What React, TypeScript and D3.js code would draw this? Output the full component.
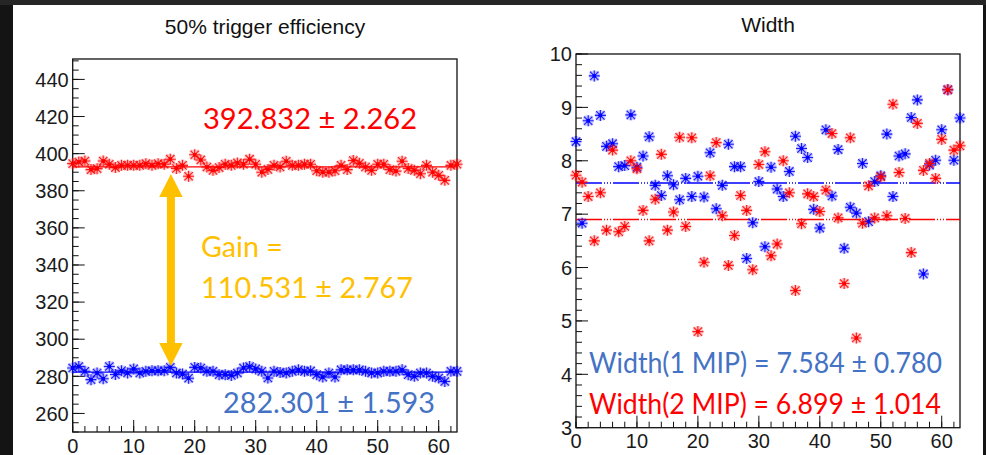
import React from 'react';
import * as d3 from 'd3';

// channel index 0..63
const channels = d3.range(64);

// 50% trigger efficiency, 2 MIP (red) and 1 MIP (blue)
const effRed = [
  394.6, 395.5, 396.0, 391.4, 391.9, 396.0, 394.3, 392.5, 393.7, 393.7,
  393.7, 393.7, 394.6, 393.7, 394.6, 394.3, 397.0, 392.0, 393.7, 387.8,
  399.4, 396.6, 392.8, 391.0, 392.5, 394.3, 393.7, 395.0, 394.3, 397.0,
  394.3, 390.0, 391.5, 393.7, 392.8, 395.9, 393.7, 393.7, 394.3, 394.3,
  390.8, 390.0, 390.0, 390.8, 393.7, 391.4, 396.3, 394.8, 392.8, 391.0,
  394.3, 394.3, 391.4, 390.6, 395.9, 392.0, 391.0, 389.2, 393.7, 390.0,
  388.3, 385.6, 393.7, 394.3
];
const effBlue = [
  284.5, 285.3, 282.7, 278.2, 281.8, 278.7, 285.3, 281.0, 283.0, 281.8,
  284.0, 281.8, 282.7, 283.0, 283.0, 283.0, 284.8, 281.8, 281.2, 279.0,
  284.8, 284.5, 282.7, 282.7, 280.9, 280.9, 280.5, 281.8, 284.5, 285.3,
  284.0, 282.7, 279.1, 282.7, 282.1, 281.8, 282.7, 283.5, 282.7, 282.9,
  280.9, 279.6, 281.8, 279.6, 283.5, 283.5, 283.5, 283.5, 282.7, 281.8,
  281.8, 282.7, 282.7, 282.7, 283.5, 280.9, 280.0, 281.8, 281.8, 280.0,
  279.1, 277.2, 282.7, 282.7
];
const effRedFit = 392.832;
const effBlueFit = 282.301;

// width, 2 MIP (red) and 1 MIP (blue)
const widthRed = [
  7.73, 7.60, 7.33, 6.50, 7.40, 6.70, 8.20, 6.67, 6.77, 8.00,
  7.85, 7.07, 6.50, 7.28, 8.12, 6.70, 7.04, 8.44, 6.77, 8.43,
  4.80, 6.10, 7.72, 8.34, 6.97, 6.04, 6.60, 7.35, 7.07, 5.96,
  7.93, 8.17, 6.22, 6.44, 8.00, 7.40, 5.57, 6.82, 7.38, 7.33,
  7.05, 7.45, 8.51, 6.93, 5.70, 8.43, 4.68, 6.83, 7.53, 6.93,
  7.70, 6.97, 9.06, 7.78, 6.92, 6.28, 8.70, 7.82, 7.95, 7.67,
  8.40, 9.33, 8.20, 8.28
];
const widthBlue = [
  8.36, 6.83, 8.75, 9.59, 8.85, 8.27, 8.32, 7.89, 7.91, 8.86,
  7.88, 8.09, 8.45, 7.54, 7.35, 7.72, 7.55, 7.27, 7.67, 7.33,
  7.71, 7.32, 8.15, 7.10, 7.54, 8.31, 7.89, 7.89, 6.17, 6.84,
  7.61, 6.39, 7.88, 7.47, 7.33, 7.80, 8.46, 8.23, 8.06, 7.09,
  6.74, 8.58, 7.34, 8.21, 6.36, 7.13, 7.02, 7.95, 6.86, 7.61,
  7.72, 8.50, 7.33, 8.09, 8.13, 8.81, 9.14, 5.88, 7.92, 8.01,
  8.58, 9.33, 8.01, 8.80
];
const widthBlueFit = 7.584;
const widthRedFit = 6.899;

const leftXTicks = d3.range(0, 61, 10);
const leftYTicks = d3.range(260, 441, 20);
const rightYTicks = d3.range(3, 11, 1);

const RED = '#ff0000';
const BLUE = '#0000ff';
const OFFICE_BLUE = '#4472c4';
const ORANGE = '#ffc000';
const tickFont = '"Liberation Sans", Arial, sans-serif';
const noteFont = 'Lato, "Open Sans", sans-serif';

function Star({ x, y, color }: { x: number; y: number; color: string }) {
  const d = 'M-5.5,0H5.5M0,-5.5V5.5M-4.2,-4.2L4.2,4.2M-4.2,4.2L4.2,-4.2';
  return (
    <g transform={`translate(${x},${y})`}>
      <path d={d} stroke={color} strokeWidth={3.4} strokeOpacity={0.25} />
      <path d={d} stroke={color} strokeWidth={1.1} strokeOpacity={0.85} />
      <rect x={-1.8} y={-1.8} width={3.6} height={3.6} fill={color} />
    </g>
  );
}

function Frame({ x, y, xTicks, xMinor, yTicks, yMinor }: any) {
  const [x0, x1] = x.range();
  const [y0, y1] = y.range();
  return (
    <g>
      <rect x={x0} y={y1} width={x1 - x0} height={y0 - y1} fill="none" stroke="#111" strokeWidth={1.3} />
      {xMinor.map((v: number) => (
        <line key={'xm' + v} x1={x(v)} x2={x(v)} y1={y0} y2={y0 - 6} stroke="#111" />
      ))}
      {xTicks.map((v: number) => (
        <g key={'x' + v}>
          <line x1={x(v)} x2={x(v)} y1={y0} y2={y0 - 12} stroke="#111" />
          <text x={x(v)} y={y0 + 20.5} textAnchor="middle" fontSize={20} fontFamily={tickFont} fill="#1a1a1a">{v}</text>
        </g>
      ))}
      {yMinor.map((v: number) => (
        <line key={'ym' + v} x1={x0} x2={x0 + 6} y1={y(v)} y2={y(v)} stroke="#111" />
      ))}
      {yTicks.map((v: number) => (
        <g key={'y' + v}>
          <line x1={x0} x2={x0 + 12} y1={y(v)} y2={y(v)} stroke="#111" />
          <text x={x0 - 4} y={y(v)} dy="0.36em" textAnchor="end" fontSize={20} fontFamily={tickFont} fill="#1a1a1a">{v}</text>
        </g>
      ))}
    </g>
  );
}

export default function App() {
  const xL = d3.scaleLinear().domain([0, 63]).range([72.7, 457]);
  const yL = d3.scaleLinear().domain([250, 451]).range([432, 59]);
  const xR = d3.scaleLinear().domain([0, 63]).range([576, 960]);
  const yR = d3.scaleLinear().domain([3, 10]).range([427.7, 54]);

  const xMinor = d3.range(0, 63, 2);
  const arrowX = xL(16.1);
  const top = yL(effRedFit) + 7;
  const bot = yL(effBlueFit) - 6;
  const head = 23;
  const hw = 11.7;
  const sw = 4;
  const arrow = `M${arrowX},${top} L${arrowX + hw},${top + head} L${arrowX + sw},${top + head} L${arrowX + sw},${bot - head} L${arrowX + hw},${bot - head} L${arrowX},${bot} L${arrowX - hw},${bot - head} L${arrowX - sw},${bot - head} L${arrowX - sw},${top + head} L${arrowX - hw},${top + head} Z`;

  return (
    <svg width={986} height={455} style={{ position: 'fixed', left: 0, top: 0 }}>
      <rect width={986} height={455} fill="#141414" />
      <rect width={986} height={5} fill="#262626" />
      <rect x={13} y={5} width={970} height={450} fill="#ffffff" />

      {/* left panel */}
      <text x={265} y={34} textAnchor="middle" fontSize={21} fontFamily={tickFont} fill="#111">50% trigger efficiency</text>
      <Frame x={xL} y={yL} xTicks={leftXTicks} xMinor={xMinor} yTicks={leftYTicks} yMinor={d3.range(250, 451, 5)} />
      <line x1={xL(0)} x2={xL(63)} y1={yL(effRedFit)} y2={yL(effRedFit)} stroke={RED} strokeWidth={1.2} />
      <line x1={xL(0)} x2={xL(63)} y1={yL(effBlueFit)} y2={yL(effBlueFit)} stroke={BLUE} strokeWidth={1.2} />
      {channels.map(i => <Star key={'er' + i} x={xL(i)} y={yL(effRed[i])} color={RED} />)}
      {channels.map(i => <Star key={'eb' + i} x={xL(i)} y={yL(effBlue[i])} color={BLUE} />)}
      <path d={arrow} fill={ORANGE} />
      <text x={203} y={129} fontSize={29} fontFamily={noteFont} fill={RED} textLength={214} lengthAdjust="spacingAndGlyphs">392.832 ± 2.262</text>
      <text x={201} y={257} fontSize={29} fontFamily={noteFont} fill={ORANGE} textLength={82} lengthAdjust="spacingAndGlyphs">Gain =</text>
      <text x={201} y={298} fontSize={29} fontFamily={noteFont} fill={ORANGE} textLength={212} lengthAdjust="spacingAndGlyphs">110.531 ± 2.767</text>
      <text x={223} y={413} fontSize={29} fontFamily={noteFont} fill={OFFICE_BLUE} textLength={212} lengthAdjust="spacingAndGlyphs">282.301 ± 1.593</text>

      {/* right panel */}
      <text x={768} y={31.5} textAnchor="middle" fontSize={21} fontFamily={tickFont} fill="#111">Width</text>
      <Frame x={xR} y={yR} xTicks={leftXTicks} xMinor={xMinor} yTicks={rightYTicks} yMinor={d3.range(3, 10.01, 0.2)} />
      <line x1={xR(0)} x2={xR(63)} y1={yR(widthBlueFit)} y2={yR(widthBlueFit)} stroke={BLUE} strokeWidth={1.5} strokeDasharray="26 2 1 2 1 2 1 2" />
      <line x1={xR(0)} x2={xR(63)} y1={yR(widthRedFit)} y2={yR(widthRedFit)} stroke={RED} strokeWidth={1.5} strokeDasharray="26 2 1 2 1 2 1 2" />
      {channels.map(i => <Star key={'wb' + i} x={xR(i)} y={yR(widthBlue[i])} color={BLUE} />)}
      {channels.map(i => <Star key={'wr' + i} x={xR(i)} y={yR(widthRed[i])} color={RED} />)}
      <text x={589} y={373} fontSize={29} fontFamily={noteFont} fill={OFFICE_BLUE} textLength={353} lengthAdjust="spacingAndGlyphs">Width(1 MIP) = 7.584 ± 0.780</text>
      <text x={589} y={414} fontSize={29} fontFamily={noteFont} fill={RED} textLength={352} lengthAdjust="spacingAndGlyphs">Width(2 MIP) = 6.899 ± 1.014</text>
    </svg>
  );
}
